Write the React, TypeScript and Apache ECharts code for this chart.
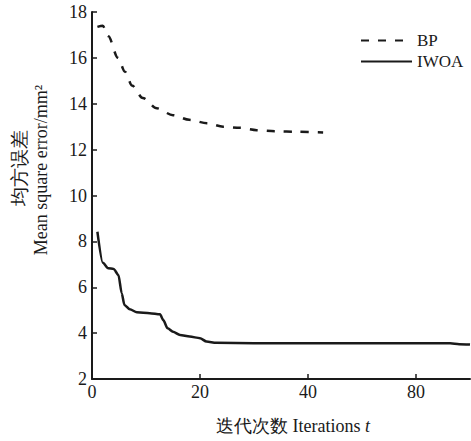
import React, { useEffect, useRef } from "react";
import * as echarts from "echarts";

// Tick labels of the x axis as printed in the figure (positions 0, 20, 40, 60)
const X_TICK_LABELS = ["0", "20", "40", "80"];

// BP network (dashed)
const BP_T = [1, 2, 3, 4.8, 6.1, 7.4, 9.4, 12, 15, 18, 21.3, 24.3, 27.4, 30.5, 34, 38, 42.8];
const BP_MSE = [17.35, 17.4, 16.95, 16.0, 15.4, 14.8, 14.25, 13.8, 13.5, 13.3, 13.15, 13.0, 12.95, 12.85, 12.8, 12.78, 12.75];

// IWOA (solid)
const IWOA_T = [1, 2, 3, 4, 4.9, 5.5, 6, 7, 8.3, 10.7, 12.6, 13.2, 14, 15, 16.3, 18.1, 20, 21.2, 23, 30, 40, 50, 60, 66.3, 68, 70];
const IWOA_MSE = [8.42, 7.07, 6.83, 6.8, 6.53, 5.74, 5.23, 5.04, 4.91, 4.87, 4.82, 4.57, 4.21, 4.06, 3.92, 3.85, 3.78, 3.63, 3.58, 3.56, 3.56, 3.56, 3.56, 3.56, 3.52, 3.5];

const SERIF = "serif";
const INK = "#1a1a1a";

export default function App() {
  const ref = useRef<HTMLDivElement>(null);

  useEffect(() => {
    if (!ref.current) return;
    const chart = echarts.init(ref.current, undefined, { renderer: "svg" });
    const bpData = BP_T.map((t, i) => [t, BP_MSE[i]]);
    const iwoaData = IWOA_T.map((t, i) => [t, IWOA_MSE[i]]);

    chart.setOption({
      animation: false,
      backgroundColor: "#ffffff",
      grid: { left: 92, right: 1, top: 12, bottom: 62, containLabel: false },
      xAxis: {
        type: "value",
        min: 0,
        max: 70,
        interval: 20,
        axisLine: { show: true, lineStyle: { color: INK, width: 2 } },
        axisTick: { show: true, inside: true, length: 5, lineStyle: { color: INK, width: 1.5 } },
        splitLine: { show: false },
        axisLabel: {
          color: INK,
          fontFamily: SERIF,
          fontSize: 18,
          margin: 4,
          showMaxLabel: false,
          formatter: (v: number) => {
            const idx = v / 20;
            return Number.isInteger(idx) && X_TICK_LABELS[idx] !== undefined ? X_TICK_LABELS[idx] : "";
          },
        },
      },
      yAxis: {
        type: "value",
        min: 2,
        max: 18,
        interval: 2,
        axisLine: { show: true, lineStyle: { color: INK, width: 2 } },
        axisTick: { show: true, inside: true, length: 5, lineStyle: { color: INK, width: 1.5 } },
        splitLine: { show: false },
        axisLabel: { color: INK, fontFamily: SERIF, fontSize: 18, margin: 5 },
      },
      legend: {
        orient: "vertical",
        left: 355,
        top: 27,
        itemWidth: 51,
        itemHeight: 14,
        itemGap: 4,
        data: ["BP", "IWOA"],
        itemStyle: { opacity: 0 },
        textStyle: { color: INK, fontFamily: SERIF, fontSize: 17 },
      },
      graphic: [
        {
          type: "text",
          x: 19,
          y: 168,
          rotation: Math.PI / 2,
          style: {
            text: "均方误差",
            fontFamily: SERIF,
            fontSize: 19,
            fill: INK,
            align: "center",
            verticalAlign: "middle",
          },
        },
        {
          type: "text",
          x: 41,
          y: 170,
          rotation: Math.PI / 2,
          style: {
            text: "Mean square error/mm²",
            fontFamily: SERIF,
            fontSize: 18,
            fill: INK,
            align: "center",
            verticalAlign: "middle",
          },
        },
        {
          type: "text",
          x: 293,
          y: 426,
          style: {
            text: "迭代次数 Iterations {t|t}",
            fontFamily: SERIF,
            fontSize: 18,
            fill: INK,
            align: "center",
            verticalAlign: "middle",
            rich: {
              t: { fontFamily: SERIF, fontSize: 18, fontStyle: "italic", fill: INK },
            },
          },
        },
      ],
      series: [
        {
          name: "BP",
          type: "line",
          data: bpData,
          symbol: "none",
          smooth: 0.3,
          smoothMonotone: "x",
          lineStyle: { color: INK, width: 2.5, type: [8, 9] },
          itemStyle: { color: INK },
        },
        {
          name: "IWOA",
          type: "line",
          data: iwoaData,
          symbol: "none",
          smooth: 0.25,
          smoothMonotone: "x",
          lineStyle: { color: INK, width: 2.5 },
          itemStyle: { color: INK },
        },
      ],
    });

    return () => chart.dispose();
  }, []);

  return <div ref={ref} style={{ width: 471, height: 441, position: "absolute", left: 0, top: 0 }} />;
}
